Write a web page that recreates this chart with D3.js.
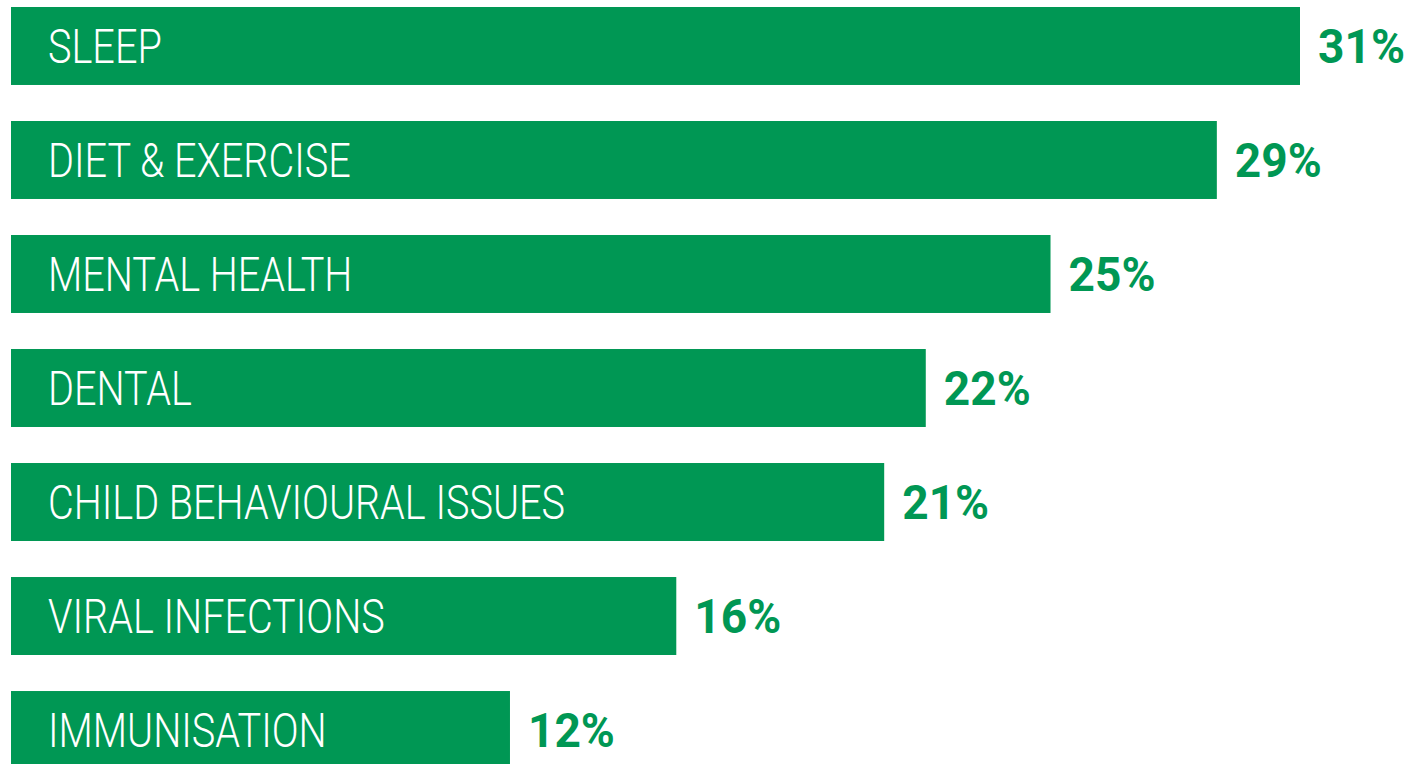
<!DOCTYPE html>
<html>
<head>
<meta charset="utf-8">
<script src="https://cdn.jsdelivr.net/npm/d3@7"></script>
<style>
  body { margin: 0; background: #fff; }
  svg { display: block; }
</style>
</head>
<body>
<div id="chart"></div>
<script>
const categories = ["SLEEP", "DIET & EXERCISE", "MENTAL HEALTH", "DENTAL", "CHILD BEHAVIOURAL ISSUES", "VIRAL INFECTIONS", "IMMUNISATION"];
const values = [31, 29, 25, 22, 21, 16, 12];

const W = 1428, H = 764;
const green = "#009754";

const svg = d3.select("#chart").append("svg")
  .attr("width", W)
  .attr("height", H);

// x: 0..31% spans from 11px to 1300px
const x = d3.scaleLinear()
  .domain([0, 31])
  .range([11, 1300]);

const y = d3.scaleBand()
  .domain(categories)
  .range([7, 769])
  .paddingInner(0.316)
  .paddingOuter(0);

const data = categories.map((c, i) => ({ cat: c, val: values[i] }));

const rows = svg.selectAll("g.row")
  .data(data)
  .enter()
  .append("g")
  .attr("class", "row");

rows.append("rect")
  .attr("x", x(0))
  .attr("y", d => y(d.cat))
  .attr("width", d => x(d.val) - x(0))
  .attr("height", y.bandwidth())
  .attr("fill", green);

//category label inside the bar - light + squeezed to look condensed
const labels = rows.append("text")
  .style("font-family", "Roboto, 'DejaVu Sans', sans-serif")
  .style("font-weight", 300)
  .style("font-size", "49px")
  .attr("fill", "#fff")
  .text(d => d.cat);

//value label right of the bar
const vals = rows.append("text")
  .style("font-family", "Roboto, 'Liberation Sans', sans-serif")
  .style("font-weight", 700)
  .style("font-size", "49px")
  .attr("fill", green)
  .text(d => d.val + "%");

// squeeze factor so the longest label is ~517px wide like the original condensed face
const longest = labels.filter(d => d.cat === "CHILD BEHAVIOURAL ISSUES").node().getComputedTextLength();
const sx = 517 / longest;
const first = vals.filter((d, i) => i === 0).node().getComputedTextLength();
const vx = 87 / first;

labels.attr("transform", d => "translate(48," + (y(d.cat) + y.bandwidth() / 2 + 17) + ") scale(" + sx + ",1)");
vals.attr("transform", d => "translate(" + (x(d.val) + 18) + "," + (y(d.cat) + y.bandwidth() / 2 + 17) + ") scale(" + vx + ",1)");
</script>
</body>
</html>
